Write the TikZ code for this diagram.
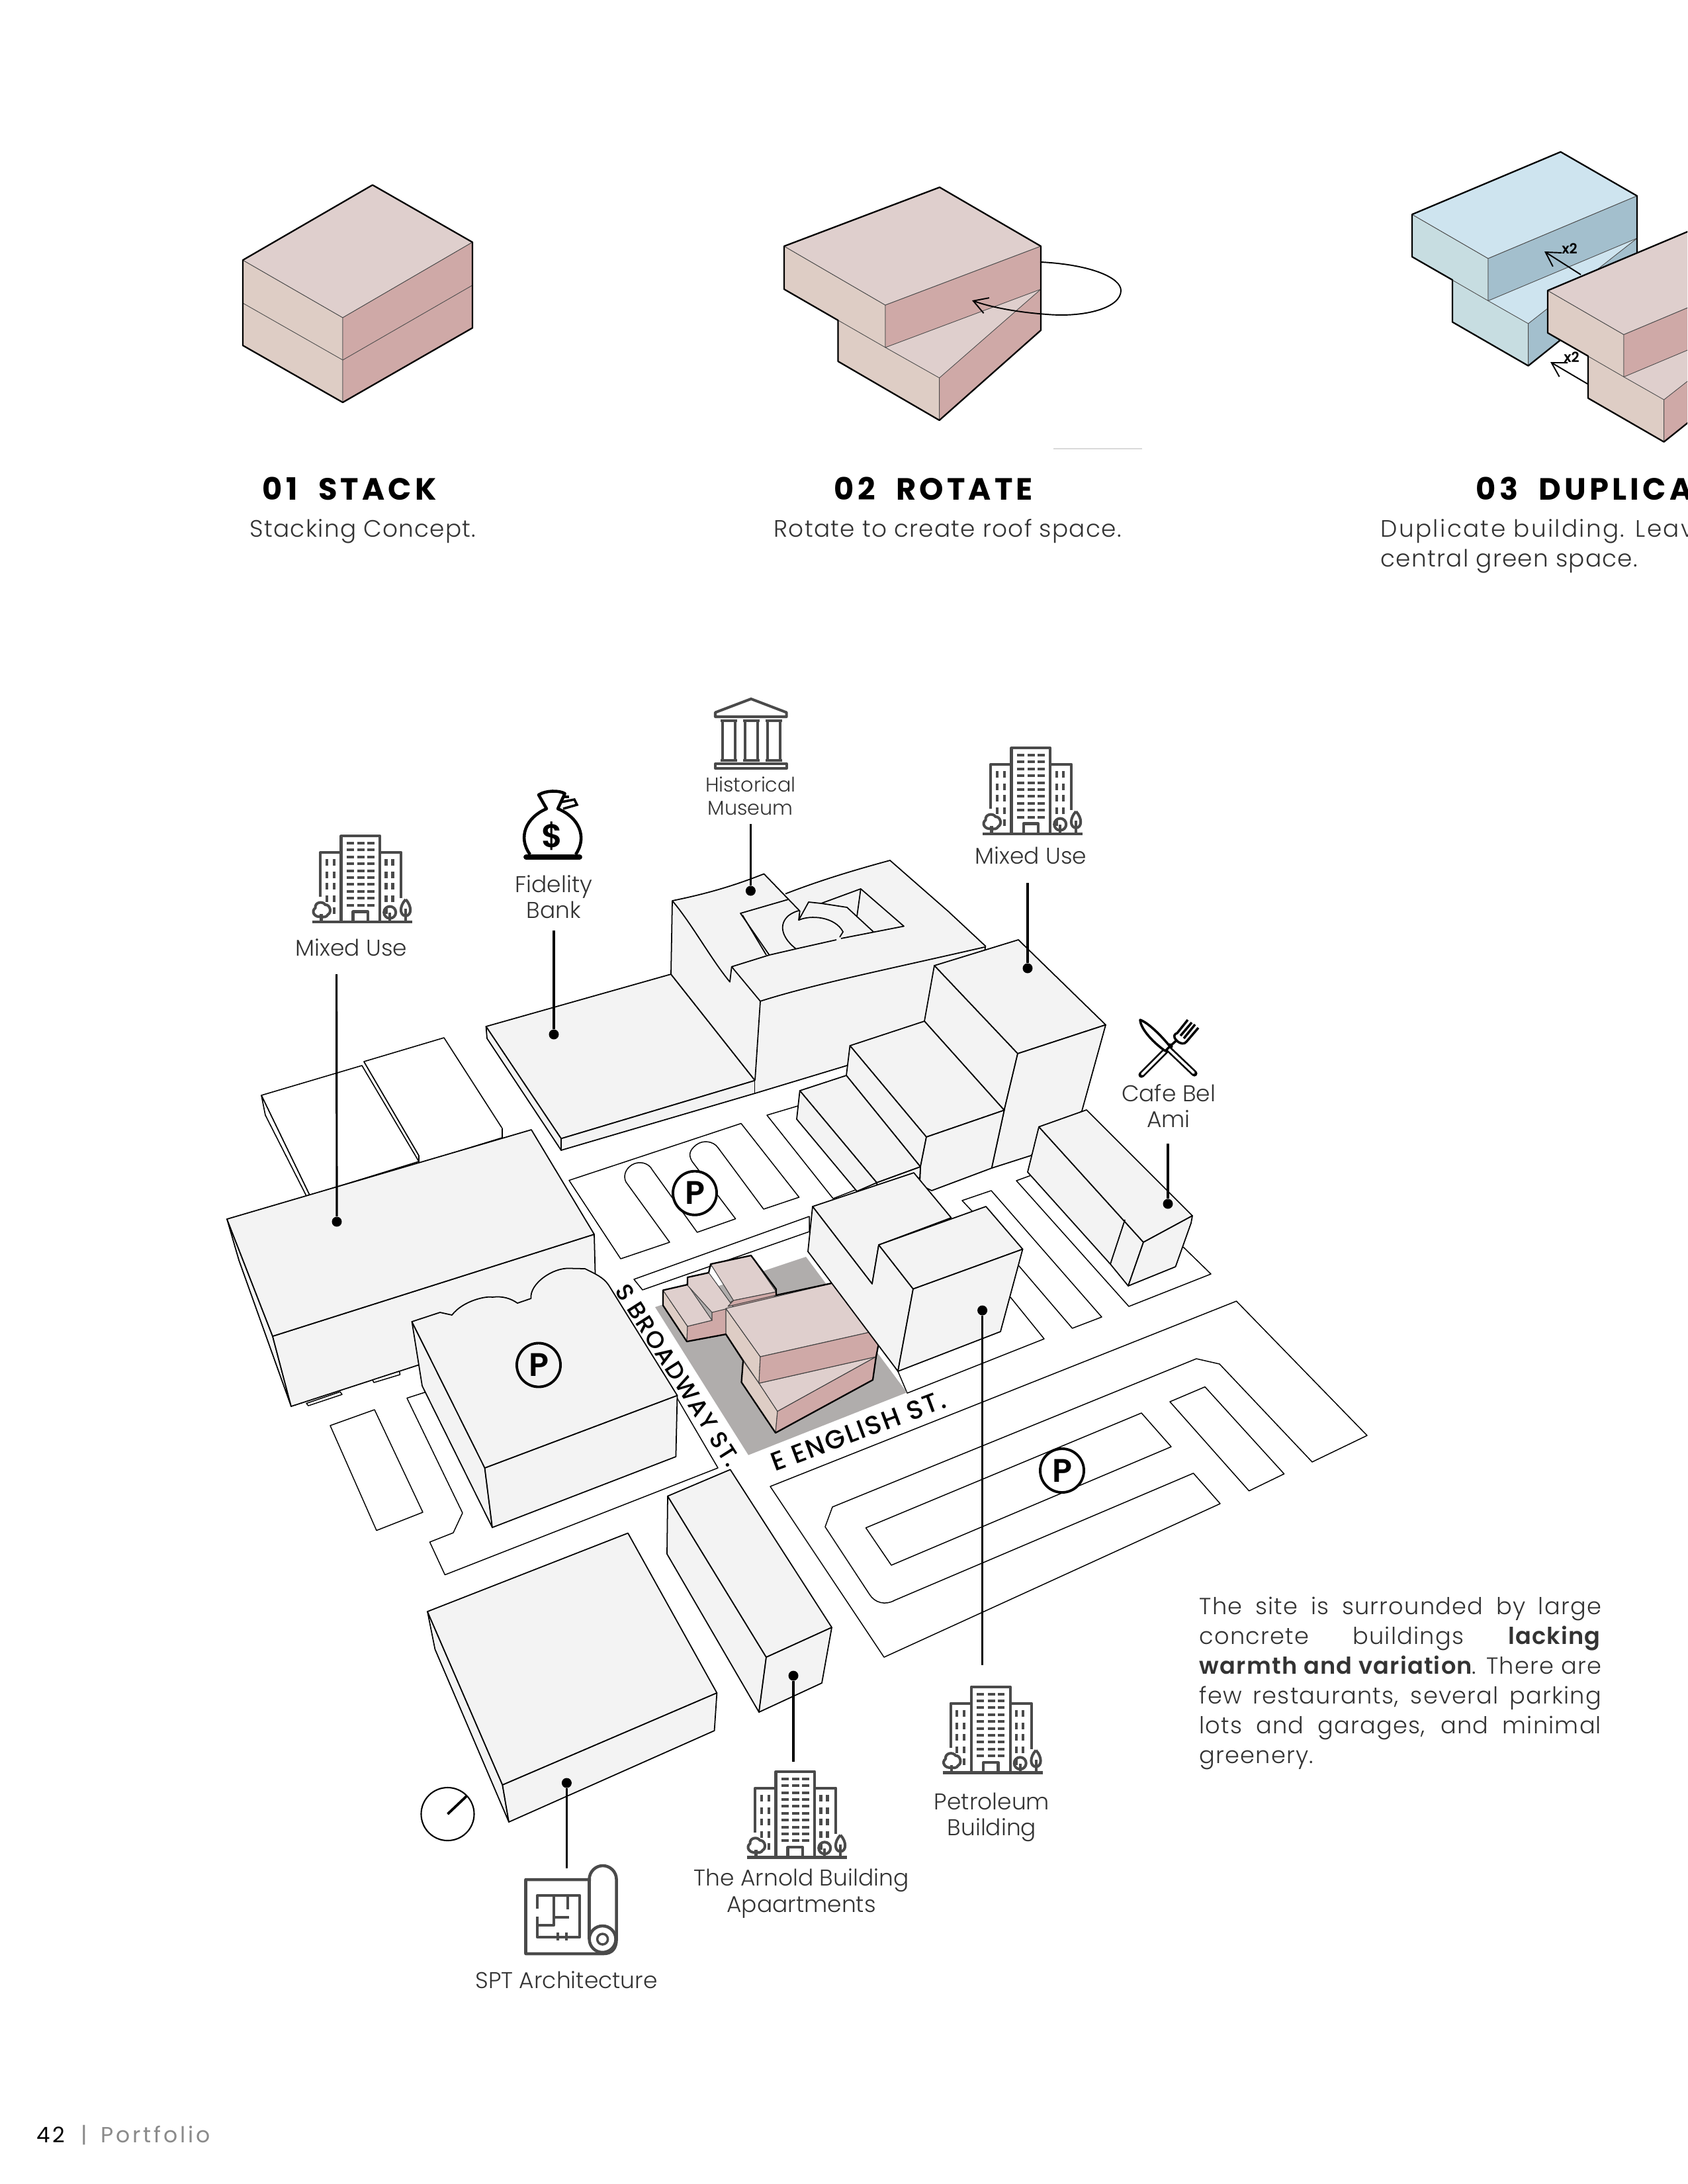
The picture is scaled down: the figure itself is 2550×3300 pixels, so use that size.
\documentclass[tikz,border=0pt]{standalone}
\usepackage{fontspec}
\setmainfont{Poppins}[UprightFont=* Light, BoldFont=* SemiBold]
\newfontfamily\bodyfont{Poppins}[UprightFont=* Light, BoldFont=* SemiBold, LetterSpace=3.5]
\newfontfamily\widefont{Poppins}[UprightFont=* Light, LetterSpace=6.5]
\newfontfamily\headfont{Poppins}[UprightFont=* Bold, LetterSpace=11]
\newfontfamily\streetfont{Poppins}[UprightFont=* Medium, LetterSpace=6]
\newfontfamily\footfont{Poppins}[UprightFont=* Regular, LetterSpace=12]
\usetikzlibrary{arrows.meta}
\definecolor{pinktop}{HTML}{DFCFCD}
\definecolor{pinkleft}{HTML}{DECDC5}
\definecolor{pinkright}{HTML}{CFA9A7}
\definecolor{bluetop}{HTML}{CEE4EF}
\definecolor{blueleft}{HTML}{C7DDE1}
\definecolor{blueright}{HTML}{A3BFCD}
\definecolor{bldggray}{HTML}{F3F3F3}
\definecolor{sitegray}{HTML}{B0ADAC}
\definecolor{icongray}{HTML}{4A4A4A}
\definecolor{txtgray}{HTML}{333333}
\definecolor{footgray}{HTML}{8A8A8A}
\newcommand{\dupblock}[3]{%
	\fill[#2] (2195,423) -- (2309.6,489) -- (2309.6,552.7) -- (2195,486.6) -- cycle;
	\fill[#1] (2249,454.5) -- (2474,360) -- (2309.6,489) -- cycle;
	\fill[#3] (2309.6,489) -- (2474,360) -- (2474,421) -- (2309.6,552.7) -- cycle;
	\filldraw[thinedge, fill=#2] (2134,324) -- (2249,390.6) -- (2249,454.5) -- (2134,388) -- cycle;
	\filldraw[thinedge, fill=#1] (2134,324) -- (2358.5,229.5) -- (2474,296) -- (2249,390.6) -- cycle;
	\filldraw[thinedge, fill=#3] (2249,390.6) -- (2474,296) -- (2474,360) -- (2249,454.5) -- cycle;
	\draw[thinedge] (2249,454.5) -- (2309.6,489) -- (2309.6,552.7) (2309.6,489) -- (2474,360);
	\draw[boxedge] (2134,324) -- (2358.5,229.5) -- (2474,296) -- (2474,421) -- (2309.6,552.7) -- (2195,486.6) -- (2195,423) -- (2134,388) -- cycle;
}
\begin{document}
\begin{tikzpicture}[x=0.01cm, y=-0.01cm,
	thinedge/.style={draw=black!70, line width=0.25pt, line join=round},
	boxedge/.style={draw=black, line width=0.65pt, line join=round},
	bldg/.style={draw=black, fill=bldggray, line width=0.5pt, line join=round},
	lot/.style={draw=black, fill=white, line width=0.42pt, line join=round},
	roofwhite/.style={draw=black, fill=white, line width=0.45pt, line join=round},
	modeledge/.style={draw=black!75, fill=#1, line width=0.3pt, line join=round},
	wallline/.style={draw=black, line width=0.5pt, line join=round},
	leader/.style={draw=black, line width=0.9pt},
	dotmark/.style={circle, fill=black, minimum size=0.15cm, inner sep=0pt},
	iconline/.style={draw=icongray, line width=1.15pt, line join=round, fill=none},
	heading/.style={anchor=base west, inner sep=0pt, font=\headfont\fontsize{13.2}{14}\selectfont, text=black},
	caption/.style={anchor=base west, inner sep=0pt, font=\bodyfont\fontsize{10.2}{12.8}\selectfont, text=txtgray},
	placelabel/.style={align=center, inner sep=0pt, font=\fontsize{9.8}{11.2}\selectfont, text=txtgray},
	street/.style={inner sep=0pt, font=\streetfont\fontsize{10.2}{11}\selectfont, text=black},
	parking/.style={circle, draw=black, line width=1.1pt, fill=white, minimum size=0.66cm, inner sep=0pt, font=\bfseries\fontsize{14}{15}\selectfont},
	towericon/.pic={
		\draw[iconline] (-63.3,-38) -- (-63.3,-105) -- (-32,-105);
		\draw[iconline] (26.6,-105) -- (58.7,-105) -- (58.7,-36);
		\draw[iconline] (-32,0) -- (-32,-130) -- (26.6,-130) -- (26.6,0);
		\draw[iconline] (-14,0) -- (-14,-15.5) -- (8.5,-15.5) -- (8.5,0);
		\draw[draw=icongray, line width=1.3pt] (-75.5,0) -- (75.5,0);
		\foreach \rowy in {-119,-108.6,-98.2,-87.8,-77.4,-67,-56.6,-46.2,-35.8,-25.4}{
			\draw[iconline] (-24,\rowy) -- (-13,\rowy) (-7.5,\rowy) -- (3.7,\rowy) (7.5,\rowy) -- (18,\rowy);
		}
		\foreach \rowy in {-90,-71,-53.6,-35}{
			\draw[iconline] (-53.7,\rowy-5) -- (-53.7,\rowy+5) (-42.7,\rowy-5) -- (-42.7,\rowy+5);
			\draw[iconline] (36,\rowy-5) -- (36,\rowy+5) (46,\rowy-5) -- (46,\rowy+5);
		}
		\draw[iconline] (-42.7,-22) -- (-42.7,-12) (36,-22) -- (36,-12);
		\draw[iconline] (-62,-8) .. controls (-72,-6) and (-78,-16) .. (-71,-21) .. controls (-72,-30) and (-60,-32) .. (-56,-26) .. controls (-48,-26) and (-46,-14) .. (-52,-11) .. controls (-54,-7) and (-59,-7) .. cycle;
		\draw[iconline] (-62,-12) -- (-62,0);
		\draw[iconline] (41.7,-14.4) circle (9);
		\draw[iconline] (41.7,-14) -- (41.7,0);
		\draw[iconline] (65.6,-34) .. controls (75,-24) and (75,-10) .. (65.6,-9) .. controls (56,-10) and (56,-24) .. (65.6,-34);
		\draw[iconline] (65.6,-20) -- (65.6,0);
	}]
	\clip (0,0) rectangle (2550,3300);

	% step blocks
	\filldraw[thinedge, fill=pinkleft] (367,393) -- (518,480) -- (518,608) -- (367,522) -- cycle;
	\filldraw[thinedge, fill=pinktop] (367,393) -- (563,279.5) -- (714,366) -- (518,480) -- cycle;
	\filldraw[thinedge, fill=pinkright] (518,480) -- (714,366) -- (714,495.5) -- (518,608) -- cycle;
	\draw[thinedge] (367,458) -- (518,544) -- (714,431);
	\draw[boxedge] (367,393) -- (563,279.5) -- (714,366) -- (714,495.5) -- (518,608) -- (367,522) -- cycle;

	\fill[pinkleft] (1266.5,483.5) -- (1419.6,571) -- (1419.6,635) -- (1266.5,546) -- cycle;
	\fill[pinktop] (1338,525) -- (1573,437) -- (1419.6,571) -- cycle;
	\fill[pinkright] (1419.6,571) -- (1573,437) -- (1573,499) -- (1419.6,635) -- cycle;
	\draw[thinedge] (1338,525) -- (1419.6,571) -- (1419.6,635) (1419.6,571) -- (1573,437);
	\filldraw[thinedge, fill=pinkleft] (1185,372) -- (1338,461) -- (1338,525) -- (1185,437) -- cycle;
	\filldraw[thinedge, fill=pinktop] (1185,372) -- (1420,283) -- (1573,372) -- (1338,461) -- cycle;
	\filldraw[thinedge, fill=pinkright] (1338,461) -- (1573,372) -- (1573,437) -- (1338,525) -- cycle;
	\draw[boxedge] (1185,372) -- (1420,283) -- (1573,372) -- (1573,499) -- (1419.6,635) -- (1266.5,546) -- (1266.5,484) -- (1185,437) -- cycle;
	\coordinate (spinstart) at (1573,396);
	\coordinate (spinend) at (1469,454);
	\draw[line width=0.55pt, -{Straight Barb[length=6pt,width=7pt]}] (spinstart) .. controls (1650,400) and (1694,420) .. (1694,439) .. controls (1694,465) and (1640,480) .. (1582,475) .. controls (1540,472) and (1500,465) .. (spinend);
	\draw[black!15, line width=0.3pt] (1592,678) -- (1726,678);

	\dupblock{bluetop}{blueleft}{blueright}
	\coordinate (copyAfrom) at (2389,415);
	\coordinate (copyAto) at (2334,380);
	\draw[line width=0.55pt, -{Straight Barb[length=6pt,width=7pt]}] (copyAfrom) -- (copyAto);
	\begin{scope}[shift={(205,115)}]
		\dupblock{pinktop}{pinkleft}{pinkright}
	\end{scope}
	\coordinate (copyBfrom) at (2399,580);
	\coordinate (copyBto) at (2343,547);
	\draw[line width=0.55pt, -{Straight Barb[length=6pt,width=7pt]}] (copyBfrom) -- (copyBto);
	\node[inner sep=0pt, font=\bfseries\fontsize{6}{6}\selectfont] (copyAtext) at (2372,376) {x2};
	\node[inner sep=0pt, font=\bfseries\fontsize{6}{6}\selectfont] (copyBtext) at (2375,540) {x2};

	\node[heading] (stackhead) at (396,755) {01\hspace{9pt}STACK};
	\node[heading] (rotatehead) at (1260,755) {02\hspace{9pt}ROTATE};
	\node[heading] (duphead) at (2230,755) {03\hspace{9pt}DUPLICA};
	\node[caption] (stackcap) at (377,811) {Stacking Concept.};
	\node[caption] (rotatecap) at (1169,811) {Rotate to create roof space.};
	\node[caption, font=\widefont\fontsize{10.2}{12.8}\selectfont] (dupcapa) at (2086,811) {Duplicate building. Leav};
	\node[caption] (dupcapb) at (2086,856) {central green space.};

	% ground
	\draw[lot] (1164,2246) -- (1868.5,1966) -- (2066,2169) -- (1983,2209) -- (1843,2061) -- (1808,2053) -- (1258,2277) -- (1247,2307) -- (1314,2409) .. controls (1322,2422) and (1338,2426) .. (1352,2418) -- (1803.5,2226) -- (1844,2272) -- (1336,2504) -- cycle;
	\draw[lot] (1308.5,2308.5) -- (1725,2135) -- (1770,2186) -- (1347,2365) -- cycle;
	\draw[lot] (1768,2118) -- (1821,2095.5) -- (1940.6,2227) -- (1887.6,2252.7) -- cycle;
	\draw[lot] (615,2112.5) -- (643,2103.5) -- (760,2250) -- (1023,2112) -- (1085,2218) -- (672.4,2379.5) -- (649.5,2330) -- (685,2316) -- (699,2286) -- cycle;
	\draw[lot] (499,2154) -- (566,2130) -- (639,2285) -- (569,2312.5) -- cycle;
	\draw[lot] (860,1783.5) -- (1120,1697.5) -- (1207.6,1809) -- (1154,1827) -- (1085,1734) .. controls (1078,1724) and (1062,1722) .. (1052,1730) .. controls (1042,1738) and (1040,1745) .. (1046,1755) -- (1111.6,1841.6) -- (1053.6,1862) -- (986,1768) .. controls (980,1756) and (965,1754) .. (955,1760) .. controls (944,1767) and (942,1778) .. (946,1786) -- (1012,1877) -- (938,1902) -- cycle;
	\draw[lot] (1159,1685) -- (1259,1811) -- (1295,1797) -- (1206,1671) -- cycle;
	\draw[lot] (958,1933) -- (1223,1838) -- (1223,1861) -- (971,1949) -- cycle;
	\draw[lot] (1454,1814) -- (1498,1799) -- (1665,1990) -- (1620.5,2007) -- (1469,1830) -- cycle;
	\draw[lot] (1536,1784) -- (1558,1776) -- (1789,1885) -- (1830,1925) -- (1706,1974) -- cycle;
	\draw[lot] (1527,1960) -- (1578,2023) -- (1371,2105) -- (1357,2072) -- cycle;
	\fill[sitegray] (990,1975) -- (1218,1899) -- (1370.5,2104) -- (1131,2198.6) -- cycle;

	% back roofs
	\draw[roofwhite] (395,1655) -- (547,1610) -- (633,1755) -- (468,1806) -- cycle;
	\draw[roofwhite] (395,1655) -- (401,1685) -- (463,1807) -- (468,1806) -- cycle;
	\draw[roofwhite] (550,1604) -- (671,1568) -- (759,1705) -- (633,1746) -- cycle;
	\draw[roofwhite] (550,1604) -- (633,1746) -- (633,1758) -- (759,1719) -- (759,1705);

	% fidelity and museum
	\draw[bldg] (734.5,1551) -- (1014,1472) -- (1141,1632.6) -- (848,1720.4) -- cycle;
	\draw[bldg] (734.5,1551) -- (848,1720.4) -- (848,1738) -- (736,1569) -- cycle;
	\draw[bldg] (848,1720.4) -- (1141,1632.6) -- (1141,1652) -- (848,1738) -- cycle;

	\fill[bldggray] (1014,1472) -- (1016,1361) .. controls (1070,1350) and (1110,1338) .. (1154.5,1320.4) -- (1187,1350.5) .. controls (1240,1330) and (1290,1315) .. (1345,1300) -- (1489.4,1429.6) -- (1489.4,1436) -- (1412,1470) -- (1397,1543) -- (1284,1580) -- (1280,1610) -- (1141,1652) -- (1141,1633) -- cycle;
	\draw[wallline] (1141,1652) -- (1280,1610);
	\draw[wallline] (1141,1632.6) -- (1014,1472) -- (1016,1361) .. controls (1070,1350) and (1110,1338) .. (1154.5,1320.4) -- (1208.7,1376.5) -- (1207,1390.3) -- (1222,1363) -- (1241,1365) -- (1280,1371) -- (1320,1408) (1187,1350.5) .. controls (1240,1330) and (1290,1315) .. (1345,1300) -- (1433.6,1377.6) -- (1489.4,1429.6) -- (1488,1437) (1241,1365) -- (1300.8,1343) -- (1366,1399.5) -- (1271,1418) (1264,1420) -- (1203,1433.7) -- (1162.6,1443) -- (1105.7,1460.7) -- (1149,1512.8) -- (1141,1632.6);
	\draw[wallline] (1016,1361) .. controls (1045,1395) and (1075,1450) .. (1103,1483.7) -- (1105.7,1460.7);
	\draw[wallline] (1149,1512.8) .. controls (1230,1487) and (1340,1465) .. (1488,1431);
	\draw[wallline] (1162.6,1443) -- (1119,1380) -- (1192.4,1358.7);
	\draw[wallline] (1122,1382.6) -- (1158,1443);
	\draw[wallline] (1295,1385) -- (1300.8,1343);
	\draw[wallline] (1207,1390.3) .. controls (1225,1382) and (1262,1385) .. (1274,1408) -- (1269,1416);
	\draw[wallline] (1203,1433.7) .. controls (1185,1420) and (1175,1400) .. (1190,1385) .. controls (1195,1380) and (1205,1376) .. (1208,1376);

	% stepped block
	\draw[bldg] (1412,1459) -- (1539,1420) -- (1671,1548.5) -- (1538,1592) -- cycle;
	\draw[bldg] (1412,1459) -- (1538,1592) -- (1517.6,1677.5) -- (1397,1543) -- cycle;
	\draw[bldg] (1538,1592) -- (1671,1548.5) -- (1635,1678.6) -- (1558,1746) -- (1498.6,1765) -- (1517.6,1677.5) -- cycle;
	\draw[bldg] (1284.5,1580) -- (1397,1543) -- (1517.6,1677.5) -- (1400,1718) -- cycle;
	\draw[bldg] (1284.5,1580) -- (1400,1718) -- (1391,1763) -- (1279,1625) -- cycle;
	\draw[bldg] (1400,1718) -- (1517.6,1677.5) -- (1498.6,1765) -- (1408,1799) -- (1390,1790) -- (1391,1763) -- cycle;
	\draw[bldg] (1208.7,1648) -- (1279,1625) -- (1391,1763) -- (1325,1787) -- cycle;
	\draw[bldg] (1208.7,1648) -- (1325,1787) -- (1295,1800) -- (1204,1691) -- cycle;
	\draw[bldg] (1325,1787) -- (1391,1763) -- (1390,1780) -- (1326,1800) -- cycle;

	% big block left
	\draw[bldg] (343,1842) -- (412,2019) -- (440,2125) -- (361,1904) -- cycle;
	\draw[bldg] (412,2019) -- (898,1865) -- (899.5,1924) -- (900,2000) -- (634,2062) -- (440,2125) -- cycle;
	\draw[bldg] (343,1842) -- (803,1707) -- (898,1865) -- (412,2019) -- cycle;
	\draw[lot] (463,2120.5) -- (514,2103) -- (517,2107) -- (466,2124) -- cycle;
	\draw[lot] (563,2085) -- (603.5,2072) -- (604.6,2077) -- (565,2089) -- cycle;

	% garage
	\draw[bldg] (622.5,1997) -- (732.6,2218) -- (744,2308) -- (638,2094) -- cycle;
	\draw[bldg] (732.6,2218) -- (1023.5,2108.5) -- (1021.4,2201) -- (744,2308) -- cycle;
	\draw[bldg] (622.5,1997) -- (665,1983) -- (683,1987) .. controls (700,1965) and (735,1958) .. (744,1960) .. controls (760,1958) and (772,1962) .. (782,1969) -- (802.5,1962) .. controls (800,1940) and (835,1915) .. (861,1916.5) -- (884,1917) .. controls (900,1925) and (912,1930) .. (920,1942) -- (1023.5,2108.5) -- (732.6,2218) -- cycle;

	% pink model
	\draw[modeledge=pinkleft] (1002,1949.5) -- (1039,2004) -- (1038,2027) -- (1002,1972.5) -- cycle;
	\draw[modeledge=pinkright] (1039,2004) -- (1076,1995) -- (1076,1983) -- (1108.5,1965) -- (1173,1952) -- (1173,1957) -- (1100,2016) -- (1038,2027) -- cycle;
	\draw[modeledge=pinktop] (1002,1949.5) -- (1039,1941) -- (1076,1995) -- (1039,2004) -- cycle;
	\draw[modeledge=pinktop] (1039,1930) -- (1071,1923) -- (1108.5,1975) -- (1076,1983) -- (1038,1941) -- cycle;
	\draw[modeledge=pinktop] (1074,1910) -- (1135,1897) -- (1173,1952) -- (1108.5,1965) -- cycle;
	\draw[modeledge=pinkright] (1108.5,1965) -- (1173,1952) -- (1173,1957) -- (1100,1974) -- cycle;
	\draw[modeledge=pinkleft] (1123,2056) -- (1147,2090) -- (1175,2132.5) -- (1172,2165) -- (1120.5,2088.5) -- cycle;
	\draw[modeledge=pinktop] (1147,2090) -- (1324,2050) -- (1175,2132.5) -- cycle;
	\draw[modeledge=pinkright] (1175,2132.5) -- (1324,2050) -- (1319,2085) -- (1172,2165) -- cycle;
	\draw[modeledge=pinkleft] (1097,1977) -- (1149,2050) -- (1147,2090) -- (1097,2016) -- cycle;
	\draw[modeledge=pinktop] (1097,1977) -- (1275,1935) -- (1332,2009) -- (1149,2050) -- cycle;
	\draw[modeledge=pinkright] (1149,2050) -- (1332,2009) -- (1324,2050) -- (1147,2090) -- cycle;
	\draw[boxedge] (1002,1949.5) -- (1039,1941) -- (1039,1930) -- (1071,1923) -- (1074,1910) -- (1135,1897) -- (1173,1948) -- (1173,1957) -- (1275,1935) -- (1332,2009) -- (1324,2050) -- (1319,2085) -- (1172,2165) -- (1120.5,2088.5) -- (1123,2056) -- (1097,2016) -- (1038,2027) -- (1002,1972.5) -- cycle;

	% petroleum
	\draw[bldg] (1228,1823) -- (1381,1772) -- (1437.5,1840) -- (1328,1881) -- (1318,1940) -- cycle;
	\draw[bldg] (1228,1823) -- (1318,1940) -- (1328,1881) -- (1380,1947.6) -- (1357,2072) -- (1221,1891) -- cycle;
	\draw[bldg] (1328,1881) -- (1490,1823) -- (1545.5,1887.5) -- (1380,1947.6) -- cycle;
	\draw[bldg] (1380,1947.6) -- (1545.5,1887.5) -- (1512,2012) -- (1357,2072) -- cycle;

	% cafe
	\draw[bldg] (1570,1702.6) -- (1728,1877) -- (1705,1943) -- (1678,1910) -- (1553,1771) -- cycle;
	\draw[bldg] (1570,1702.6) -- (1642,1677) -- (1802,1837) -- (1728,1877) -- cycle;
	\draw[bldg] (1728,1877) -- (1802,1837) -- (1800,1848) -- (1776.5,1914) -- (1705,1943) -- cycle;
	\draw[wallline] (1700,1843) -- (1678,1910);

	% arnold and spt
	\draw[bldg] (1009,2260.6) -- (1158,2504) -- (1147,2587) -- (1008,2348) -- cycle;
	\draw[bldg] (1009,2260.6) -- (1103.6,2220.5) -- (1257,2459) -- (1158,2504) -- cycle;
	\draw[bldg] (1158,2504) -- (1257,2459) -- (1242,2543) -- (1147,2587) -- cycle;
	\draw[bldg] (646,2435) -- (759.4,2697) -- (769,2753) -- (657.4,2492) -- cycle;
	\draw[bldg] (646,2435) -- (949,2316.5) -- (1083.4,2558) -- (759.4,2697) -- cycle;
	\draw[bldg] (759.4,2697) -- (1083.4,2558) -- (1079.6,2615) -- (769,2753) -- cycle;

	% compass
	\node[circle, draw=black, line width=0.6pt, minimum size=0.8cm, inner sep=0pt] (compass) at (676.5,2741) {};
	\coordinate (needle) at (705,2714);
	\draw[line width=1.1pt] (compass.center) -- (needle);

	% street names and parking
	\node[street, rotate=-57.5] (broadway) at (1025,2078) {S\hspace{3pt}BROADWAY\hspace{3pt}ST.};
	\node[street, rotate=20.5, font=\streetfont\fontsize{11.2}{12}\selectfont] (english) at (1297,2162) {E ENGLISH ST.};
	\node[parking] (parkn) at (1050,1802.7) {P};
	\node[parking, fill=bldggray] (parkg) at (814,2062.5) {P};
	\node[parking] (parks) at (1605,2222) {P};

	% icons
	\pic at (547.5,1393) {towericon};
	\pic at (1560.5,1260) {towericon};
	\pic at (1204.5,2806.7) {towericon};
	\pic at (1500,2678.6) {towericon};

	% money bag
	\draw[black, line width=1.3pt, line join=round] (801,1291) .. controls (782,1265) and (795,1235) .. (826,1222) -- (814,1201) .. controls (825,1194) and (845,1194) .. (853.6,1199) -- (843,1222) .. controls (875,1235) and (888,1265) .. (870,1291);
	\draw[black, line width=1pt] (848,1212) -- (868,1208) -- (872,1216) -- (851,1222);
	\draw[black, line width=1pt] (852,1204) -- (860,1204);
	\draw[black, line width=2.2pt, line cap=round] (795,1295) -- (876,1295);
	\node[inner sep=0pt, font=\bfseries\fontsize{14}{15}\selectfont] (dollar) at (835,1263) {\$};

	% museum icon
	\draw[iconline] (1081,1076.5) -- (1135,1056) -- (1188.6,1076.5) -- (1188.6,1083) -- (1081,1083) -- cycle;
	\foreach \colx in {1092,1126,1160}{
		\draw[iconline] (\colx-3,1089) -- (\colx+22,1089);
		\draw[iconline] (\colx,1089) -- (\colx,1148) (\colx+19,1089) -- (\colx+19,1148);
		\draw[iconline] (\colx-3,1149) -- (\colx+22,1149);
	}
	\draw[iconline] (1081,1154) rectangle (1188.6,1161);

	% cutlery
	\draw[black, line width=2.6pt, line cap=round] (1725,1624) -- (1768,1581);
	\draw[white, line width=1.1pt, line cap=round] (1726,1623) -- (1760,1589);
	\draw[black, line width=1pt, line join=round] (1768,1581) -- (1778,1572) .. controls (1772,1566) and (1775,1562) .. (1779,1561) -- (1795,1541) (1784,1565) -- (1801,1545) (1789,1569) -- (1806,1548) (1778,1572) .. controls (1784,1578) and (1790,1578) .. (1793,1574) -- (1811,1553);
	\draw[black, line width=2.6pt, line cap=round] (1764,1583) -- (1805,1622);
	\draw[white, line width=1.1pt, line cap=round] (1766,1585) -- (1804,1621);
	\draw[black, fill=white, line width=1pt, line join=round] (1723,1541) .. controls (1735,1545) and (1755,1565) .. (1768,1581) -- (1761,1588) .. controls (1745,1577) and (1724,1556) .. cycle;

	% plan icon
	\draw[draw=icongray, line width=1.3pt, line join=round] (893,2840) -- (794.5,2840) -- (794.5,2952) -- (912,2952) .. controls (925,2952) and (931.6,2944) .. (931.6,2930) -- (931.6,2840) .. controls (931.6,2828) and (922,2819) .. (911,2819) .. controls (900,2819) and (890.5,2828) .. (890.5,2840) -- (890.5,2930);
	\draw[draw=icongray, line width=1.3pt] (910.6,2930) circle (20);
	\draw[draw=icongray, line width=1pt] (910.6,2930) circle (8);
	\draw[draw=icongray, line width=1.2pt, line join=round] (812,2884) -- (812,2864) -- (876,2864) -- (876,2927) -- (812,2927) -- (812,2896);
	\draw[draw=icongray, line width=1.2pt, line join=round] (837,2864) -- (837,2909) -- (812,2909) (837,2897) -- (860,2897) (858,2864) -- (858,2885);
	\draw[draw=icongray, line width=1.2pt] (843,2920) -- (843,2932) (856,2920) -- (856,2932);

	% labels
	\node[placelabel] (mixeda) at (531,1432) {Mixed Use};
	\node[placelabel] (fidelity) at (837,1355) {Fidelity\\Bank};
	\node[placelabel, font=\fontsize{8.6}{10}\selectfont] (museum) at (1134.4,1203) {Historical\\Museum};
	\node[placelabel] (mixedb) at (1558,1293) {Mixed Use};
	\node[placelabel] (cafe) at (1766,1671) {Cafe Bel\\Ami};
	\node[placelabel] (petroleum) at (1499,2746) {Petroleum\\Building};
	\node[placelabel] (arnold) at (1211,2861) {The Arnold Building\\Apaartments};
	\node[placelabel] (spt) at (856,2992) {SPT Architecture};

	% leaders
	\node[dotmark] (mixedadot) at (509,1846) {};
	\node[dotmark] (fidelitydot) at (837,1563) {};
	\node[dotmark] (museumdot) at (1134.4,1346) {};
	\node[dotmark] (mixedbdot) at (1553,1463) {};
	\node[dotmark] (cafedot) at (1765,1819) {};
	\node[dotmark] (petroleumdot) at (1484.6,1980) {};
	\node[dotmark] (arnolddot) at (1199,2532) {};
	\node[dotmark] (sptdot) at (856.4,2694) {};
	\coordinate (mixedaend) at (508.6,1472);
	\coordinate (fidelityend) at (837,1405.6);
	\coordinate (museumend) at (1134.4,1245);
	\coordinate (mixedbend) at (1553,1334);
	\coordinate (cafeend) at (1765,1728);
	\coordinate (petroleumend) at (1484.6,2516);
	\coordinate (arnoldend) at (1199,2661.6);
	\coordinate (sptend) at (856.4,2823);
	\draw[leader] (mixedaend) -- (mixedadot);
	\draw[leader] (fidelityend) -- (fidelitydot);
	\draw[leader] (museumend) -- (museumdot);
	\draw[leader] (mixedbend) -- (mixedbdot);
	\draw[leader] (cafeend) -- (cafedot);
	\draw[leader] (petroleumend) -- (petroleumdot);
	\draw[leader] (arnoldend) -- (arnolddot);
	\draw[leader] (sptend) -- (sptdot);

	% text block
	\node[anchor=north west, inner sep=0pt, text width=6.07cm, align=justify, text=txtgray, font=\bodyfont\fontsize{10}{12.8}\selectfont] (sitetext) at (1812,2412) {The site is surrounded by large\linebreak concrete buildings \textbf{lacking}\linebreak \textbf{warmth and variation}. There are\linebreak few restaurants, several parking\linebreak lots and garages, and minimal\linebreak greenery.};

	\node[anchor=base west, inner sep=0pt, font=\footfont\fontsize{9.2}{11}\selectfont] (pagenum) at (55,3237) {42};
	\node[anchor=base west, inner sep=0pt, text=footgray, font=\footfont\fontsize{9.4}{11}\selectfont] (pagename) at (122,3237) {|\hspace{2pt} Portfolio};
\end{tikzpicture}
\end{document}
